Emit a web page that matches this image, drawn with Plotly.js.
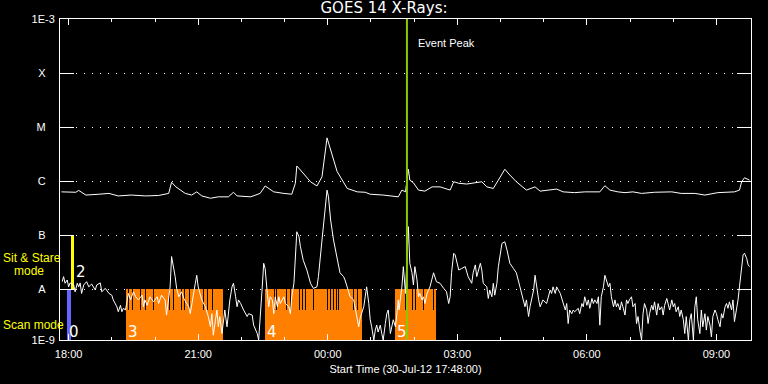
<!DOCTYPE html>
<html>
<head>
<meta charset="utf-8">
<script src="https://cdn.plot.ly/plotly-3.0.1.min.js"></script>
<style>html,body{margin:0;padding:0;background:#000;}#chart{width:768px;height:384px;}</style>
</head>
<body>
<div id="chart"></div>
<script>
// ---- data (time in minutes after start 30-Jul-12 17:48:00) ----
const startTime = '2012-07-30T17:48:00Z';

// GOES long channel (upper curve)
const longMin = [2,12,22,26,36,54,68,81,99,119,137,151,155,161,174,183,190,197,209,220,234,241,246,265,278,285,297,311,322,327,329,334,348,357,364,371,376,385,399,413,424,431,449,470,475,480,484,486,491,498,507,517,528,542,547,554,565,577,586,593,602,609,618,625,634,648,660,667,681,690,699,715,729,750,757,764,775,785,796,808,826,850,863,882,896,914,937,944,947,951,958];
const longFlux = [6.3e-7,6.3e-7,6.2e-7,6.7e-7,5.5e-7,5.7e-7,5.9e-7,5.3e-7,5.5e-7,5.3e-7,5.4e-7,5.9e-7,9.5e-7,7.8e-7,5.9e-7,5.5e-7,6.3e-7,5.3e-7,4.8e-7,5.1e-7,5.1e-7,6.2e-7,5.3e-7,5.1e-7,5.9e-7,8.1e-7,6.3e-7,5.9e-7,5.7e-7,9.1e-7,1.9e-6,1.6e-6,9.7e-7,8.1e-7,1.2e-6,6.3e-6,3.7e-6,1.5e-6,7.3e-7,6.3e-7,6.2e-7,5.7e-7,5.5e-7,5.1e-7,6.8e-7,6.3e-7,1.65e-6,1.04e-6,9.3e-7,6.8e-7,6.5e-7,7.8e-7,7.8e-7,6.8e-7,9.7e-7,9.1e-7,8.8e-7,9.3e-7,9.7e-7,7.8e-7,7.3e-7,1.04e-6,1.65e-6,1.29e-6,9.7e-7,6.8e-7,7.8e-7,6.5e-7,6.8e-7,7.1e-7,6.3e-7,6.1e-7,6.3e-7,6.3e-7,8.2e-7,6.8e-7,6.3e-7,6.1e-7,6.3e-7,5.9e-7,6.2e-7,6.3e-7,5.9e-7,5.9e-7,5.5e-7,6.1e-7,6.3e-7,6.8e-7,9.7e-7,1.15e-6,1.04e-6];

// GOES short channel (lower curve)
const shortMin = [3,5,7,10,12,14,19,21,24,26,28,30,33,37,40,44,49,51,56,58,63,68,72,74,79,81,84,86,88,91,93,95,98,102,105,109,114,116,118,121,125,130,135,137,141,146,148,151,153,155,158,160,162,165,169,172,176,179,181,183,188,190,192,197,202,206,209,211,213,216,218,220,222,225,227,229,232,236,239,241,244,246,248,251,255,260,262,267,269,274,276,278,281,283,285,288,290,292,295,297,299,302,304,306,311,313,318,320,322,325,329,332,334,338,343,348,352,357,359,364,369,371,373,376,380,385,389,394,396,401,403,408,410,413,415,417,419,422,424,426,429,431,433,436,438,440,442,445,447,449,452,454,456,459,463,466,468,470,471,475,477,480,484,486,489,491,493,496,498,500,503,505,507,510,514,519,523,528,533,537,540,542,544,547,549,554,558,563,567,572,574,577,579,584,586,588,593,595,597,600,602,604,607,609,614,618,621,625,630,634,639,644,646,648,651,653,655,658,660,662,665,667,669,671,676,681,683,685,688,690,695,699,702,704,706,708,711,713,715,720,722,725,727,729,732,734,736,739,741,743,746,748,750,752,755,757,759,762,764,766,769,771,773,775,778,780,782,785,787,789,791,794,796,799,801,803,806,808,810,812,815,817,819,822,824,826,829,831,833,836,838,840,843,845,847,850,852,854,856,859,861,863,866,868,870,873,875,877,880,882,884,886,889,891,893,896,898,900,903,905,907,910,912,914,917,919,921,924,926,928,930,933,935,937,940,942,944,947,949,951,954,956,958];
const shortFlux = [1.37e-8,1.7e-8,1.28e-8,1.47e-8,1.1e-8,1.3e-8,1.19e-8,8.9e-9,1.28e-8,1.1e-8,1.3e-8,8.3e-9,1.19e-8,1.37e-8,1.1e-8,1.24e-8,9.6e-9,1.19e-8,1.3e-8,8.9e-9,1.03e-8,8.3e-9,7.7e-9,6.3e-9,4.7e-9,3.8e-9,5.0e-9,3.8e-9,4.4e-9,4.1e-9,5.8e-9,8.3e-9,6.3e-9,8.9e-9,7.2e-9,6.3e-9,7.7e-9,4.7e-9,6.3e-9,5.0e-9,7.2e-9,5.8e-9,7.2e-9,5.4e-9,7.7e-9,6.3e-9,3.3e-9,7.2e-9,1.1e-8,4.0e-8,2.6e-8,1.7e-8,1.03e-8,7.2e-9,8.9e-9,6.7e-9,5.4e-9,4.7e-9,3.5e-9,5.4e-9,1.28e-8,1.8e-8,1.1e-8,6.3e-9,4.7e-9,3.1e-9,2.0e-9,3.5e-9,1.4e-9,2.7e-9,4.1e-9,2.0e-9,3.1e-9,1.5e-9,2.7e-9,4.1e-9,2.0e-9,6.3e-9,1.1e-8,1.28e-8,7.2e-9,4.7e-9,6.3e-9,5.4e-9,4.1e-9,3.1e-9,3.5e-9,3.3e-9,2.15e-9,1.5e-9,1.14e-9,3.5e-9,1.1e-8,3.0e-8,2.4e-8,8.3e-9,4.7e-9,7.2e-9,6.3e-9,3.5e-9,7.2e-9,4.7e-9,7.2e-9,5.4e-9,7.2e-9,5.4e-9,4.7e-9,3.5e-9,7.2e-9,1.28e-8,1.15e-7,9.3e-8,6.1e-8,3.4e-8,2.25e-8,1.28e-8,1.03e-8,1.1e-8,1.7e-8,8.1e-8,3.3e-7,6.8e-7,5.1e-7,1.9e-7,8.1e-8,3.4e-8,2.0e-8,1.7e-8,1.47e-8,8.9e-9,7.2e-9,6.3e-9,4.7e-9,2.7e-9,2.0e-9,2.9e-9,3.5e-9,4.7e-9,7.2e-9,1.1e-8,5.4e-9,2.7e-9,2.0e-9,1.14e-9,1.74e-9,2.15e-9,1.6e-9,2.15e-9,1.5e-9,1.14e-9,2.3e-9,3.5e-9,4.1e-9,1.5e-9,2.7e-9,2.0e-9,3.5e-9,6.3e-9,4.1e-9,1.1e-8,2.6e-8,8.3e-9,1.43e-7,3.0e-8,2.0e-8,1.19e-8,2.6e-8,1.47e-8,7.2e-9,8.3e-9,6.3e-9,7.2e-9,5.4e-9,8.3e-9,1.1e-8,2.0e-8,1.37e-8,1.28e-8,1.03e-8,8.9e-9,5.4e-9,7.2e-9,2.0e-8,4.6e-8,4.3e-8,2.25e-8,2.4e-8,2.6e-8,1.7e-8,1.28e-8,2.0e-8,2.8e-8,1.7e-8,3.0e-8,2.25e-8,1.28e-8,1.1e-8,6.7e-9,9.6e-9,7.2e-9,1.28e-8,7.7e-9,1.28e-8,2.6e-8,7.0e-8,7.5e-8,5.3e-8,3.0e-8,2.4e-8,2.0e-8,1.1e-8,6.3e-9,4.7e-9,6.3e-9,3.1e-9,4.7e-9,6.3e-9,9.6e-9,1.8e-8,1.1e-8,6.3e-9,4.7e-9,5.4e-9,6.3e-9,5.4e-9,9.6e-9,8.3e-9,1.1e-8,8.3e-9,1.1e-8,8.3e-9,5.4e-9,4.1e-9,5.4e-9,2.3e-9,4.1e-9,3.5e-9,4.1e-9,3.8e-9,4.4e-9,3.5e-9,5.4e-9,4.7e-9,7.2e-9,5.0e-9,6.3e-9,4.4e-9,6.7e-9,5.4e-9,6.3e-9,5.4e-9,7.2e-9,2.15e-9,7.2e-9,1.1e-8,1.8e-8,1.47e-8,1.1e-8,1.28e-8,7.2e-9,4.7e-9,6.3e-9,4.7e-9,5.4e-9,4.1e-9,5.8e-9,4.7e-9,3.3e-9,6.3e-9,5.4e-9,6.3e-9,7.2e-9,4.7e-9,5.4e-9,2.3e-9,3.1e-9,1.6e-9,1.14e-9,3.5e-9,5.4e-9,4.1e-9,2.3e-9,3.5e-9,5.0e-9,4.1e-9,5.8e-9,3.3e-9,5.4e-9,4.1e-9,4.7e-9,3.3e-9,5.0e-9,6.7e-9,5.4e-9,4.1e-9,6.3e-9,4.7e-9,5.4e-9,3.8e-9,4.7e-9,3.1e-9,4.1e-9,2.7e-9,1.5e-9,3.1e-9,1.14e-9,2.7e-9,3.5e-9,1.14e-9,4.7e-9,7.2e-9,2.7e-9,1.5e-9,4.1e-9,2.0e-9,3.5e-9,1.74e-9,3.1e-9,2.15e-9,1.3e-9,3.1e-9,4.1e-9,3.5e-9,2.7e-9,2.0e-9,3.5e-9,2.9e-9,4.7e-9,5.4e-9,4.4e-9,5.8e-9,4.1e-9,6.3e-9,2.5e-9,4.1e-9,6.3e-9,1.1e-8,2.6e-8,4.3e-8,4.6e-8,3.7e-8,2.8e-8,2.6e-8];

// IRIS observations
const obsLabels = ['0','2','3','4','5'];
const obsStartMin = [10.3,15.3,91.3,285,465.6];
const obsEndMin = [15.3,19.0,227,420,522.5];
const obsBottom = [1e-9,1e-8,1e-9,1e-9,1e-9];
const obsTop = [1e-8,1e-7,1e-8,1e-8,1e-8];
const obsLabelFlux = [1.6e-9,2.1e-8,1.6e-9,1.6e-9,1.6e-9];
// gaps between rasters (minutes)
const rasterGapMin = [95,101,107,112,119,125,130,136,143,152,158,164,169,173,180,186,192,199,205,212,218,292,298,301,310,315,320,325,333,337,341,347,352,357,372,376,380,384,387,392,400,403,408,413,471,475,480,485,490,494,499,505,510,514,519];
const rasterGapBottom = 4.1e-9;
const rasterGapTop = 1e-8;

const eventPeakMin = 482;
const yTickVals = [1.14e-9,1e-8,1e-7,1e-6,1e-5,1e-4,1e-3];
const yTickText = ['1E-9','A','B','C','M','X','1E-3'];

// ---- build ----
const t0 = Date.parse(startTime);
function toDate(m){ return new Date(t0 + m*60000).toISOString().replace('T',' ').replace('Z',''); }

const obsColors = ['#6464ff','#ffff00','#ff8000','#ff8000','#ff8000'];
const traces = [];
traces.push({
  type:'bar',
  x: obsStartMin.map((s,i)=>toDate((s+obsEndMin[i])/2)),
  width: obsStartMin.map((s,i)=>(obsEndMin[i]-s)*60000),
  base: obsBottom,
  y: obsTop.map((v,i)=>v-obsBottom[i]),
  marker:{color:obsColors, line:{width:0}},
  hoverinfo:'skip', showlegend:false
});
traces.push({
  type:'bar',
  x: rasterGapMin.map(toDate),
  width: rasterGapMin.map(()=>0.75*60000),
  base: rasterGapMin.map(()=>rasterGapBottom),
  y: rasterGapMin.map(()=>rasterGapTop-rasterGapBottom),
  marker:{color:'#000000', line:{width:0}},
  hoverinfo:'skip', showlegend:false
});
traces.push({type:'scatter', mode:'lines', x:longMin.map(toDate), y:longFlux,
  line:{color:'#ffffff', width:1}, showlegend:false, hoverinfo:'skip'});
traces.push({type:'scatter', mode:'lines', x:shortMin.map(toDate), y:shortFlux,
  line:{color:'#ffffff', width:1}, showlegend:false, hoverinfo:'skip'});
traces.push({type:'scatter', mode:'lines', x:[toDate(eventPeakMin),toDate(eventPeakMin)], y:[1e-3,1e-10],
  line:{color:'#8cc800', width:2}, showlegend:false, hoverinfo:'skip'});

const font = {family:'Liberation Sans, DejaVu Sans, sans-serif', size:11, color:'#ffffff'};
const yellowFont = {family:'Liberation Sans, DejaVu Sans, sans-serif', size:12, color:'#ffff00'};
const annotations = [];
obsLabels.forEach((lab,i)=>{
  annotations.push({x:toDate(i===1 ? obsEndMin[i] : obsStartMin[i]), y:Math.log10(obsLabelFlux[i]),
    xref:'x', yref:'y', text:lab, showarrow:false, xanchor:'left', yanchor:'middle', xshift:0,
    font:{family:'DejaVu Sans, sans-serif', size:15, color:'#ffffff'}});
});
annotations.push({x:toDate(eventPeakMin), y:Math.log10(3.6e-4), xref:'x', yref:'y', text:'Event Peak',
  showarrow:false, xanchor:'left', yanchor:'middle', xshift:9, font:font});
annotations.push({x:0, y:0, xref:'paper', yref:'paper', xshift:-59, yshift:82, text:'Sit & Stare', showarrow:false,
  xanchor:'left', yanchor:'middle', font:yellowFont});
annotations.push({x:0, y:0, xref:'paper', yref:'paper', xshift:-48, yshift:69, text:'mode', showarrow:false,
  xanchor:'left', yanchor:'middle', font:yellowFont});
annotations.push({x:0, y:0, xref:'paper', yref:'paper', xshift:-59, yshift:15, text:'Scan mode', showarrow:false,
  xanchor:'left', yanchor:'middle', font:yellowFont});

const layout = {
  width:768, height:384,
  paper_bgcolor:'#000', plot_bgcolor:'#000',
  margin:{l:60, r:17, t:19, b:44},
  barmode:'overlay', bargap:0,
  font: font,
  title:{text:'GOES 14 X-Rays:', font:{family:'DejaVu Sans, sans-serif', size:15, color:'#fff'}, x:0.5, xanchor:'center', y:1, yanchor:'top', pad:{t:2}},
  xaxis:{
    type:'date', range:[toDate(0), toDate(960)],
    tickformat:'%H:%M', tick0:'2012-07-30 18:00', dtick:3*3600000,
    ticks:'inside', ticklen:6, tickcolor:'#fff', tickwidth:1,
    minor:{dtick:3600000, ticks:'inside', ticklen:3, tickcolor:'#fff', showgrid:false},
    showline:true, linecolor:'#fff', linewidth:1, mirror:'ticks',
    showgrid:false, zeroline:false,
    tickfont:font, ticklabelstandoff:4,
    title:{text:'Start Time (30-Jul-12 17:48:00)', font:font, standoff:6}
  },
  yaxis:{
    type:'log', range:[Math.log10(1.14e-9), -3],
    tickvals:yTickVals, ticktext:yTickText.map(s=>s.length===1 ? s+'\u00a0\u00a0\u00a0' : s),
    ticks:'inside', ticklen:14, tickcolor:'#fff', tickwidth:1,
    showline:true, linecolor:'#fff', linewidth:1, mirror:'ticks',
    showgrid:true, gridcolor:'#fff', gridwidth:1, griddash:'1px,7px',
    zeroline:false, tickfont:font, ticklabelstandoff:2
  },
  annotations: annotations
};
Plotly.newPlot('chart', traces, layout, {staticPlot:true, displayModeBar:false});
</script>
</body>
</html>
